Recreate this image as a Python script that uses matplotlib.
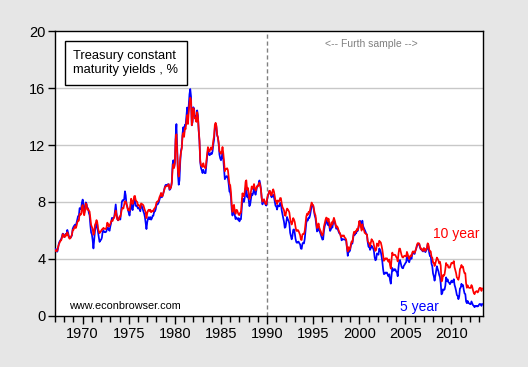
import numpy as np
import matplotlib
matplotlib.use("Agg")
import matplotlib.pyplot as plt

plt.rcParams['font.family'] = ['Liberation Sans', 'DejaVu Sans']

start_year = 1967
# 10-year Treasury constant maturity yield, monthly, Jan 1967 - May 2013
gs10 = [
    4.58, 4.63, 4.54, 4.59, 4.85, 5.02, 5.16, 5.28, 5.30, 5.48, 5.75, 5.70,  # 1967
    5.53, 5.56, 5.74, 5.64, 5.87, 5.72, 5.50, 5.42, 5.46, 5.58, 5.70, 6.03,  # 1968
    6.04, 6.19, 6.30, 6.17, 6.32, 6.57, 6.72, 6.69, 7.16, 7.10, 7.14, 7.65,  # 1969
    7.79, 7.24, 7.07, 7.39, 7.91, 7.84, 7.46, 7.53, 7.39, 7.33, 6.84, 6.39,  # 1970
    6.24, 6.11, 5.70, 5.83, 6.39, 6.52, 6.73, 6.58, 6.14, 5.93, 5.81, 5.93,  # 1971
    5.95, 6.08, 6.07, 6.19, 6.13, 6.11, 6.11, 6.21, 6.55, 6.48, 6.28, 6.36,  # 1972
    6.46, 6.64, 6.71, 6.67, 6.85, 6.90, 7.13, 7.40, 7.09, 6.79, 6.73, 6.74,  # 1973
    6.99, 6.96, 7.21, 7.51, 7.58, 7.54, 7.81, 8.04, 8.04, 7.90, 7.68, 7.43,  # 1974
    7.50, 7.39, 7.73, 8.23, 8.06, 7.86, 8.06, 8.40, 8.43, 8.14, 8.05, 8.00,  # 1975
    7.74, 7.79, 7.73, 7.56, 7.90, 7.86, 7.83, 7.77, 7.59, 7.41, 7.29, 6.87,  # 1976
    7.21, 7.39, 7.46, 7.37, 7.46, 7.28, 7.33, 7.40, 7.34, 7.52, 7.58, 7.69,  # 1977
    7.96, 8.03, 8.04, 8.15, 8.35, 8.46, 8.64, 8.41, 8.42, 8.64, 8.81, 9.01,  # 1978
    9.10, 9.10, 9.12, 9.18, 9.25, 8.91, 8.95, 9.03, 9.33, 10.30, 10.65, 10.39,  # 1979
    10.80, 12.41, 12.75, 11.47, 10.18, 9.78, 10.25, 11.10, 11.51, 11.75, 12.68, 12.84,  # 1980
    12.57, 13.19, 13.12, 13.68, 14.10, 13.47, 14.28, 14.94, 15.32, 15.15, 13.39, 13.72,  # 1981
    14.59, 14.43, 13.86, 13.87, 13.62, 14.30, 13.95, 13.06, 12.34, 10.91, 10.55, 10.54,  # 1982
    10.46, 10.72, 10.51, 10.40, 10.38, 10.85, 11.38, 11.85, 11.65, 11.54, 11.69, 11.83,  # 1983
    11.67, 11.84, 12.32, 12.63, 13.41, 13.56, 13.36, 12.72, 12.52, 12.16, 11.57, 11.50,  # 1984
    11.38, 11.51, 11.86, 11.43, 10.85, 10.16, 10.31, 10.33, 10.37, 10.24, 9.78, 9.26,  # 1985
    9.19, 8.70, 7.78, 7.30, 7.71, 7.80, 7.30, 7.17, 7.45, 7.43, 7.25, 7.11,  # 1986
    7.08, 7.25, 7.25, 8.02, 8.61, 8.40, 8.45, 8.76, 9.42, 9.52, 8.86, 8.99,  # 1987
    8.67, 8.21, 8.37, 8.72, 9.09, 8.92, 9.06, 9.26, 8.98, 8.80, 8.96, 9.11,  # 1988
    9.09, 9.17, 9.36, 9.18, 8.86, 8.28, 8.02, 8.11, 8.19, 8.01, 7.87, 7.84,  # 1989
    8.21, 8.47, 8.59, 8.79, 8.76, 8.48, 8.47, 8.75, 8.89, 8.72, 8.39, 8.08,  # 1990
    8.09, 7.85, 8.11, 8.04, 8.07, 8.28, 8.27, 7.90, 7.65, 7.53, 7.42, 7.09,  # 1991
    7.03, 7.34, 7.54, 7.48, 7.39, 7.26, 6.84, 6.59, 6.42, 6.59, 6.87, 6.77,  # 1992
    6.60, 6.26, 5.98, 5.97, 6.04, 5.96, 5.81, 5.68, 5.36, 5.33, 5.72, 5.77,  # 1993
    5.75, 5.97, 6.48, 6.97, 7.18, 7.10, 7.30, 7.24, 7.46, 7.74, 7.96, 7.81,  # 1994
    7.78, 7.47, 7.20, 7.06, 6.63, 6.17, 6.28, 6.49, 6.20, 6.04, 5.93, 5.71,  # 1995
    5.65, 5.81, 6.27, 6.51, 6.74, 6.91, 6.87, 6.64, 6.83, 6.53, 6.20, 6.30,  # 1996
    6.58, 6.42, 6.69, 6.89, 6.71, 6.49, 6.22, 6.30, 6.21, 6.03, 5.88, 5.81,  # 1997
    5.54, 5.57, 5.65, 5.64, 5.65, 5.50, 5.46, 5.34, 4.81, 4.53, 4.83, 4.65,  # 1998
    4.72, 5.00, 5.23, 5.18, 5.54, 5.90, 5.79, 5.94, 5.92, 6.11, 6.03, 6.28,  # 1999
    6.66, 6.52, 6.26, 5.99, 6.44, 6.10, 6.05, 5.83, 5.80, 5.74, 5.72, 5.24,  # 2000
    5.16, 5.10, 4.89, 5.14, 5.39, 5.28, 5.24, 4.97, 4.73, 4.57, 4.65, 5.09,  # 2001
    5.04, 4.91, 5.28, 5.21, 5.16, 4.93, 4.65, 4.26, 3.87, 3.94, 4.05, 4.03,  # 2002
    4.05, 3.90, 3.81, 3.96, 3.57, 3.33, 3.98, 4.45, 4.27, 4.29, 4.30, 4.27,  # 2003
    4.15, 4.08, 3.83, 4.35, 4.72, 4.73, 4.50, 4.28, 4.13, 4.10, 4.19, 4.23,  # 2004
    4.22, 4.17, 4.50, 4.34, 4.14, 4.00, 4.18, 4.26, 4.20, 4.46, 4.54, 4.47,  # 2005
    4.42, 4.57, 4.72, 4.99, 5.11, 5.11, 5.09, 4.88, 4.72, 4.73, 4.60, 4.56,  # 2006
    4.76, 4.72, 4.56, 4.69, 4.75, 5.10, 5.00, 4.67, 4.52, 4.53, 4.15, 4.10,  # 2007
    3.74, 3.74, 3.51, 3.68, 3.88, 4.10, 4.01, 3.89, 3.69, 3.81, 3.53, 2.42,  # 2008
    2.52, 2.87, 2.82, 2.93, 3.29, 3.72, 3.56, 3.59, 3.40, 3.39, 3.40, 3.59,  # 2009
    3.73, 3.69, 3.73, 3.85, 3.42, 3.20, 3.01, 2.70, 2.65, 2.54, 2.76, 3.29,  # 2010
    3.39, 3.58, 3.41, 3.46, 3.17, 3.00, 3.00, 2.30, 1.98, 2.15, 2.01, 1.98,  # 2011
    1.97, 1.97, 2.17, 2.05, 1.80, 1.62, 1.53, 1.68, 1.72, 1.75, 1.65, 1.72,  # 2012
    1.91, 1.98, 1.96, 1.76, 1.93,  # 2013
]
# 5-year Treasury constant maturity yield, monthly, Jan 1967 - May 2013
gs5 = [
    4.64, 4.71, 4.54, 4.51, 4.75, 5.10, 5.23, 5.31, 5.40, 5.57, 5.78, 5.75,  # 1967
    5.54, 5.59, 5.76, 5.69, 6.04, 5.85, 5.60, 5.50, 5.48, 5.55, 5.66, 6.12,  # 1968
    6.25, 6.34, 6.41, 6.30, 6.54, 6.75, 7.01, 7.03, 7.57, 7.51, 7.53, 7.96,  # 1969
    8.17, 7.82, 7.21, 7.50, 7.97, 7.86, 7.58, 7.56, 7.24, 7.06, 6.37, 5.86,  # 1970
    5.72, 5.31, 4.74, 5.31, 5.96, 6.18, 6.48, 6.42, 5.88, 5.51, 5.20, 5.31,  # 1971
    5.35, 5.50, 5.92, 6.00, 5.89, 5.88, 5.88, 5.96, 6.21, 6.19, 6.05, 5.98,  # 1972
    6.29, 6.52, 6.88, 6.83, 6.87, 6.91, 7.36, 7.83, 7.24, 6.83, 6.71, 6.87,  # 1973
    6.88, 6.77, 7.34, 8.01, 8.13, 8.09, 8.19, 8.75, 8.47, 7.82, 7.69, 7.41,  # 1974
    7.25, 7.05, 7.46, 8.12, 7.61, 7.43, 7.75, 8.10, 8.31, 7.73, 7.74, 7.67,  # 1975
    7.54, 7.59, 7.50, 7.35, 7.79, 7.70, 7.54, 7.34, 7.19, 6.94, 6.49, 6.10,  # 1976
    6.58, 6.83, 6.93, 6.79, 6.94, 6.76, 6.84, 7.03, 7.04, 7.32, 7.34, 7.48,  # 1977
    7.77, 7.83, 7.86, 7.98, 8.18, 8.36, 8.54, 8.33, 8.43, 8.61, 8.84, 9.08,  # 1978
    9.20, 9.13, 9.20, 9.25, 9.24, 8.85, 8.90, 9.06, 9.41, 10.63, 10.93, 10.42,  # 1979
    10.74, 12.60, 13.47, 11.84, 9.95, 9.21, 9.53, 10.84, 11.62, 11.86, 12.83, 13.25,  # 1980
    12.77, 13.41, 13.41, 13.99, 14.63, 13.95, 14.79, 15.56, 15.93, 15.41, 13.38, 13.60,  # 1981
    14.65, 14.54, 13.98, 14.00, 13.75, 14.43, 14.07, 13.00, 12.25, 10.80, 10.38, 10.22,  # 1982
    10.03, 10.26, 10.08, 10.02, 10.03, 10.63, 11.21, 11.63, 11.43, 11.28, 11.32, 11.44,  # 1983
    11.37, 11.54, 12.02, 12.37, 13.17, 13.48, 13.27, 12.68, 12.53, 12.06, 11.33, 11.07,  # 1984
    10.93, 11.13, 11.52, 11.01, 10.34, 9.60, 9.70, 9.81, 9.81, 9.69, 9.28, 8.73,  # 1985
    8.68, 8.34, 7.46, 7.05, 7.52, 7.64, 7.06, 6.80, 6.92, 6.83, 6.76, 6.87,  # 1986
    6.64, 6.79, 6.79, 7.57, 8.26, 8.02, 8.01, 8.32, 8.94, 9.08, 8.35, 8.45,  # 1987
    8.18, 7.71, 7.83, 8.19, 8.58, 8.49, 8.66, 8.94, 8.69, 8.51, 8.79, 9.09,  # 1988
    9.15, 9.27, 9.51, 9.30, 8.91, 8.29, 7.83, 8.09, 8.17, 7.97, 7.81, 7.75,  # 1989
    8.12, 8.42, 8.60, 8.77, 8.74, 8.43, 8.33, 8.44, 8.51, 8.33, 8.02, 7.73,  # 1990
    7.70, 7.47, 7.77, 7.70, 7.70, 7.94, 7.91, 7.43, 7.14, 6.87, 6.62, 6.19,  # 1991
    6.24, 6.58, 6.95, 6.78, 6.69, 6.48, 5.84, 5.60, 5.38, 5.60, 6.04, 6.08,  # 1992
    5.83, 5.43, 5.19, 5.13, 5.20, 5.22, 5.09, 5.03, 4.73, 4.71, 5.06, 5.15,  # 1993
    5.09, 5.40, 5.94, 6.52, 6.78, 6.70, 6.91, 6.88, 7.08, 7.40, 7.72, 7.78,  # 1994
    7.76, 7.37, 7.05, 6.86, 6.41, 5.93, 6.01, 6.24, 6.00, 5.86, 5.69, 5.51,  # 1995
    5.36, 5.38, 5.97, 6.30, 6.48, 6.69, 6.64, 6.39, 6.60, 6.27, 5.97, 6.07,  # 1996
    6.33, 6.20, 6.54, 6.76, 6.57, 6.38, 6.12, 6.16, 6.11, 5.93, 5.80, 5.77,  # 1997
    5.64, 5.31, 5.39, 5.38, 5.38, 5.36, 5.37, 5.27, 4.76, 4.22, 4.55, 4.51,  # 1998
    4.60, 4.91, 5.14, 5.08, 5.44, 5.81, 5.68, 5.84, 5.80, 6.03, 5.97, 6.19,  # 1999
    6.58, 6.68, 6.50, 6.26, 6.69, 6.30, 6.18, 6.06, 5.93, 5.78, 5.70, 5.17,  # 2000
    4.86, 4.89, 4.64, 4.76, 4.93, 4.81, 4.76, 4.57, 4.12, 3.91, 3.97, 4.39,  # 2001
    4.34, 4.30, 4.74, 4.65, 4.49, 4.19, 3.81, 3.29, 2.94, 2.95, 3.05, 3.03,  # 2002
    3.05, 2.90, 2.78, 2.93, 2.52, 2.27, 2.87, 3.37, 3.18, 3.19, 3.29, 3.27,  # 2003
    3.12, 3.07, 2.79, 3.39, 3.85, 3.93, 3.69, 3.47, 3.36, 3.35, 3.53, 3.60,  # 2004
    3.71, 3.77, 4.17, 4.00, 3.85, 3.77, 3.98, 4.12, 4.01, 4.33, 4.45, 4.39,  # 2005
    4.35, 4.57, 4.72, 4.90, 5.00, 5.07, 5.04, 4.82, 4.67, 4.69, 4.58, 4.53,  # 2006
    4.75, 4.71, 4.48, 4.59, 4.67, 5.03, 4.88, 4.43, 4.20, 4.20, 3.67, 3.49,  # 2007
    2.98, 2.78, 2.48, 2.84, 3.15, 3.49, 3.30, 3.14, 2.88, 2.73, 2.29, 1.52,  # 2008
    1.60, 1.87, 1.82, 1.86, 2.13, 2.71, 2.46, 2.57, 2.37, 2.33, 2.23, 2.34,  # 2009
    2.48, 2.36, 2.43, 2.58, 2.18, 2.00, 1.76, 1.47, 1.41, 1.18, 1.35, 1.93,  # 2010
    1.99, 2.26, 2.11, 2.17, 1.84, 1.58, 1.54, 1.02, 0.90, 1.06, 0.91, 0.89,  # 2011
    0.84, 0.83, 1.02, 0.89, 0.76, 0.71, 0.62, 0.71, 0.67, 0.71, 0.67, 0.70,  # 2012
    0.81, 0.85, 0.82, 0.71, 0.84,  # 2013
]

year_ticks = list(range(1967, 2014))
year_labels = [1970, 1975, 1980, 1985, 1990, 1995, 2000, 2005, 2010]
y_ticks = [0, 4, 8, 12, 16, 20]
furth_break = 1990

t10 = start_year + np.arange(len(gs10)) / 12.0
t5 = start_year + np.arange(len(gs5)) / 12.0

fig = plt.figure(figsize=(5.28, 3.67), dpi=100)
fig.patch.set_facecolor('#e6e6e6')
ax = fig.add_axes([0.1042, 0.139, 0.8106, 0.7765])
ax.set_facecolor('white')

for y in y_ticks[1:-1]:
    ax.axhline(y, color='#c8c8c8', lw=1.0, zorder=1)
ax.axvline(furth_break, color='#808080', lw=1.0, ls=(0, (3, 2)), zorder=1)

ax.plot(t5, gs5, color='#0000ff', lw=1.25, zorder=3)
ax.plot(t10, gs10, color='#ff0000', lw=1.25, zorder=4)

ax.set_xlim(1967.0, 2013.42)
ax.set_ylim(0, 20)
ax.set_yticks(y_ticks)
ax.set_yticklabels([str(v) for v in y_ticks], fontsize=10.5)
ax.set_xticks(year_ticks, minor=True)
ax.set_xticks(year_labels)
ax.set_xticklabels([str(v) for v in year_labels], fontsize=10.5)
ax.tick_params(axis='x', which='major', direction='out', length=6, width=1, pad=2)
ax.tick_params(axis='x', which='minor', direction='out', length=4, width=1)
ax.tick_params(axis='y', direction='out', length=5, width=1, pad=2)
for s in ax.spines.values():
    s.set_color('black')
    s.set_linewidth(1.0)

ax.text(0.043, 0.935, 'Treasury constant\nmaturity yields , %', transform=ax.transAxes,
        fontsize=9.3, va='top', ha='left', linespacing=1.3,
        bbox=dict(boxstyle='square,pad=0.65', fc='white', ec='black', lw=1.0))
ax.text(0.74, 0.954, '<-- Furth sample -->', transform=ax.transAxes,
        fontsize=7.5, color='#808080', va='center', ha='center')
ax.text(0.033, 0.035, 'www.econbrowser.com', transform=ax.transAxes,
        fontsize=7.8, color='black', va='center', ha='left')
ax.text(2010.5, 5.75, '10 year', color='#ff0000', fontsize=10, ha='center', va='center')
ax.text(2006.5, 0.63, '5 year', color='#0000ff', fontsize=10, ha='center', va='center')

fig.savefig('out.png', dpi=100, facecolor=fig.get_facecolor())
